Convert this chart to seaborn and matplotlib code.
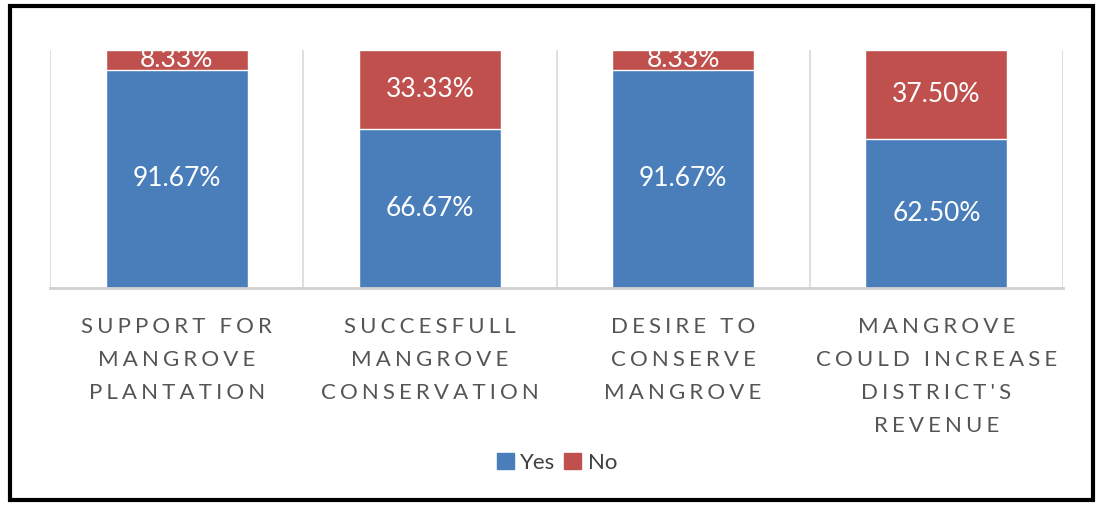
import numpy as np
import pandas as pd
import matplotlib.pyplot as plt
import seaborn as sns
from matplotlib.patches import Rectangle, Patch

# data
categories = ['SUPPORT FOR\nMANGROVE\nPLANTATION',
              'SUCCESFULL\nMANGROVE\nCONSERVATION',
              'DESIRE TO\nCONSERVE\nMANGROVE',
              "MANGROVE\nCOULD INCREASE\nDISTRICT'S\nREVENUE"]
yes_pct = [91.67, 66.67, 91.67, 62.50]
no_pct = [8.33, 33.33, 8.33, 37.50]

blue = '#4a7ebb'
red = '#c0504d'

sns.set_style('white')
plt.rcParams['font.family'] = ['Lato', 'DejaVu Sans']

df = pd.DataFrame({'cat': categories, 'yes': yes_pct, 'no': no_pct})
df['total'] = df['yes'] + df['no']

fig = plt.figure(figsize=(11.01, 5.08), dpi=100)
ax = fig.add_axes([50/1101, 1 - 288/508, (1063 - 50)/1101, (288 - 50)/508])

# stacked bars: total (red) behind, yes (blue) in front
sns.barplot(data=df, x='cat', y='total', color=red, width=0.56, saturation=1, ax=ax)
sns.barplot(data=df, x='cat', y='yes', color=blue, width=0.56, saturation=1, ax=ax)

# labels
yes_bars = ax.containers[1]
ax.bar_label(yes_bars, labels=[f'{v:.2f}%' for v in yes_pct], label_type='center',
             color='white', fontsize=19)
for bar, y, n in zip(ax.containers[0], yes_pct, no_pct):
    ax.text(bar.get_x() + bar.get_width()/2, y + n/2, f'{n:.2f}%',
            ha='center', va='center', color='white', fontsize=19)

ax.set_xlim(-0.5, 3.5)
ax.set_ylim(0, 100)
ax.set_xlabel('')
ax.set_ylabel('')
ax.set_yticks([])

# vertical separators
for xv in np.arange(-0.5, 4.0, 1.0):
    ax.axvline(xv, color='#d9d9d9', lw=1.2, zorder=0)

for s in ['top', 'left', 'right']:
    ax.spines[s].set_visible(False)
ax.spines['bottom'].set_color('#d0d0d0')
ax.spines['bottom'].set_linewidth(2)

# letter-spaced tick labels
def spaced(s):
    return '\n'.join('\u2009\u200a'.join(list(line)) for line in s.split('\n'))

ax.set_xticks(range(4))
ax.set_xticklabels([spaced(c) for c in categories], fontsize=16, color='#555555',
                   linespacing=1.8, va='top')
ax.tick_params(axis='x', length=0, pad=21)

# legend
handles = [Patch(color=blue, label='Yes'), Patch(color=red, label='No')]
fig.legend(handles=handles, loc='center', bbox_to_anchor=(557/1101, 1 - 463/508),
           ncol=2, frameon=False, fontsize=16, handlelength=0.75, handleheight=0.75,
           handletextpad=0.3, columnspacing=0.4, labelcolor='#404040')

# outer black frame
fig.patches.append(Rectangle((10/1101, 1 - 500/508), 1083/1101, 494/508,
                             transform=fig.transFigure, fill=False,
                             edgecolor='black', lw=3))

fig.savefig('out.png', dpi=100)
